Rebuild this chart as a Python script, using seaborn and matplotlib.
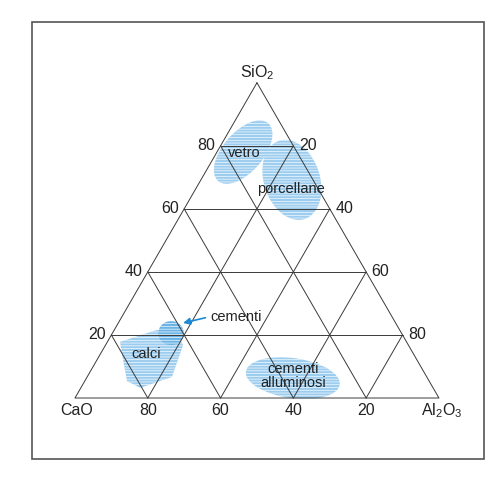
import numpy as np
import pandas as pd
import seaborn as sns
import matplotlib.pyplot as plt
from matplotlib.patches import Ellipse, Polygon, Rectangle

sns.set_theme(style="white")
plt.rcParams['font.family'] = ['Liberation Sans', 'DejaVu Sans']
plt.rcParams['hatch.linewidth'] = 0.45

# grid values (%)
ticks = [20, 40, 60, 80]

# fields: centre composition (SiO2 %, Al2O3 %), size in % units, tilt
region_names = ['vetro', 'porcellane', 'cementi alluminosi', 'cementi']
region_sio2 = [78.0, 69.2, 6.3, 20.6]
region_al2o3 = [7.2, 25.0, 56.7, 16.1]
region_len = [21.0, 22.6, 26.0, 7.0]
region_wid = [11.0, 15.4, 11.0, 6.6]
region_angle = [49, -72, -8, 0]

# calci field outline (SiO2 %, Al2O3 %)
calci_sio2 = [17.8, 21.6, 20.0, 16.8, 6.7, 3.2, 5.4, 14.3]
calci_al2o3 = [3.5, 11.7, 18.3, 21.3, 23.3, 16.3, 11.6, 5.7]

# label positions (SiO2 %, Al2O3 %)
label_text = ['vetro', 'porcellane', 'calci', 'cementi\nalluminosi']
label_sio2 = [77.7, 66.3, 13.9, 7.0]
label_al2o3 = [7.6, 26.2, 12.5, 56.4]
cem_text_pos = (25.7, 31.4)
cem_arrow_tip = (23.8, 17.8)


def to_xy(si, al):
    si = np.asarray(si, dtype=float)
    al = np.asarray(al, dtype=float)
    return al + si / 2, si * np.sqrt(3) / 2


fig = plt.figure(figsize=(5.03, 4.79), dpi=100)
ax = fig.add_axes([0, 0, 1, 1])
ax.set_xlim(-20.6, 117.6)
ax.set_ylim(-22.25, 109.34)
ax.axis('off')

blue = '#9ccdef'
dark_blue = '#6cb4e6'

# fields
cx, cy = to_xy(calci_sio2, calci_al2o3)
ax.add_patch(Polygon(np.column_stack([cx, cy]), closed=True, facecolor=blue,
                     edgecolor='white', lw=0, hatch='------', zorder=0.9))

for name, si, al, ln, wd, ang in zip(region_names, region_sio2, region_al2o3,
                                      region_len, region_wid, region_angle):
    x, y = to_xy(si, al)
    fc = dark_blue if name == 'cementi' else blue
    e = Ellipse((x, y), ln, wd, angle=ang, facecolor=fc, edgecolor='white',
                lw=0, hatch='------', zorder=1)
    ax.add_patch(e)

# triangle and grid lines
rows = []
seg = 0
xs, ys = to_xy((100, 0, 0, 100), (0, 0, 100, 0))
for a, b in zip(xs, ys):
    rows.append((a, b, seg))
seg += 1
for t in ticks:
    for si, al in [((t, t), (0, 100 - t)),
                   ((0, 100 - t), (t, t)),
                   ((0, 100 - t), (100 - t, 0))]:
        xs, ys = to_xy(si, al)
        for a, b in zip(xs, ys):
            rows.append((a, b, seg))
        seg += 1
lines = pd.DataFrame(rows, columns=['x', 'y', 'seg'])
sns.lineplot(data=lines, x='x', y='y', units='seg', estimator=None, sort=False,
             color='#3a3a3a', lw=0.7, ax=ax, zorder=2)

# tick labels
fs = 11.5
for t in ticks:
    x, y = to_xy(t, 0)
    ax.annotate(str(t), (x, y), xytext=(-4, 0), textcoords='offset points',
                ha='right', va='center', fontsize=fs, color='#222')
    x, y = to_xy(t, 100 - t)
    ax.annotate(str(100 - t), (x, y), xytext=(4, 0), textcoords='offset points',
                ha='left', va='center', fontsize=fs, color='#222')
    x, y = to_xy(0, t)
    ax.annotate(str(100 - t), (x, y), xytext=(0, -9), textcoords='offset points',
                ha='center', va='center', fontsize=fs, color='#222')

x, y = to_xy(100, 0)
ax.annotate(r'SiO$\mathregular{_2}$', (x, y), xytext=(0, 7), textcoords='offset points',
            ha='center', va='center', fontsize=fs, color='#222')
x, y = to_xy(0, 0)
ax.annotate('CaO', (x, y), xytext=(1, -9), textcoords='offset points',
            ha='center', va='center', fontsize=fs, color='#222')
x, y = to_xy(0, 100)
ax.annotate(r'Al$\mathregular{_2}$O$\mathregular{_3}$', (x, y), xytext=(2, -9),
            textcoords='offset points', ha='center', va='center', fontsize=fs, color='#222')

# field labels
for txt, si, al in zip(label_text, label_sio2, label_al2o3):
    x, y = to_xy(si, al)
    ax.text(x, y, txt, ha='center', va='center', fontsize=10.5, color='#222',
            linespacing=1.0, zorder=3)

tx, ty = to_xy(*cem_text_pos)
hx, hy = to_xy(*cem_arrow_tip)
ax.text(tx, ty, 'cementi', ha='center', va='center', fontsize=10.5, color='#222', zorder=3)
ax.annotate('', xy=(hx, hy), xytext=(tx - 8.4, ty - 0.2),
            arrowprops=dict(arrowstyle='-|>', color='#1e8ad6', lw=1.2,
                            mutation_scale=10, shrinkA=0, shrinkB=0), zorder=3)

# frame
ax.add_patch(Rectangle((0.064, 0.042), 0.898, 0.912, transform=ax.transAxes,
                       fill=False, edgecolor='#555', lw=1.2))

fig.savefig('out.png', dpi=100)
